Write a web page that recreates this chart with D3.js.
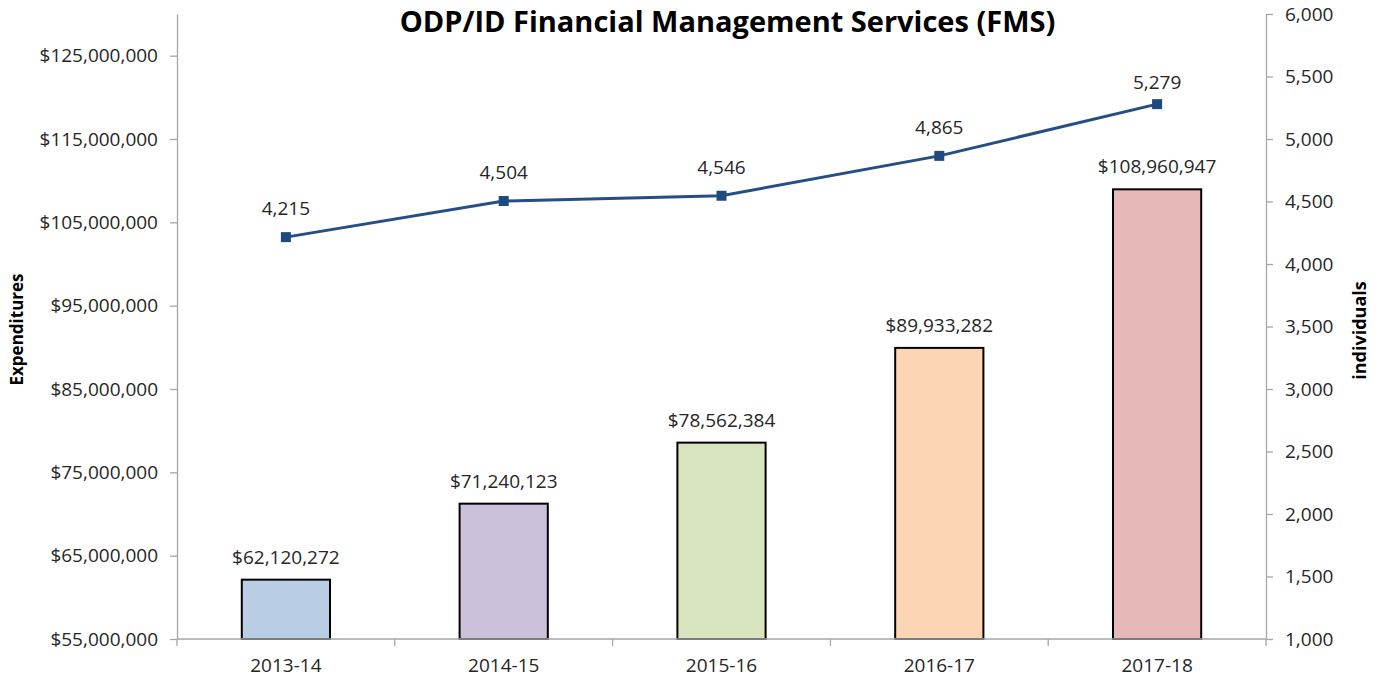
<!DOCTYPE html>
<html>
<head>
<meta charset="utf-8">
<script src="https://cdn.jsdelivr.net/npm/d3@7"></script>
<style>
  body { margin: 0; background: #fff; }
  svg { display: block; font-family: "Open Sans", sans-serif; }
</style>
</head>
<body>
<script>
// ---- data ----
var years = ["2013-14", "2014-15", "2015-16", "2016-17", "2017-18"];
var expenditures = [62120272, 71240123, 78562384, 89933282, 108960947];
var individuals = [4215, 4504, 4546, 4865, 5279];
var barColors = ["#b9cde5", "#ccc1da", "#d7e4bd", "#fcd5b5", "#e6b9b8"];
var leftTicks = [55e6, 65e6, 75e6, 85e6, 95e6, 105e6, 115e6, 125e6];
var rightTicks = [1000, 1500, 2000, 2500, 3000, 3500, 4000, 4500, 5000, 5500, 6000];

// ---- layout ----
var W = 1381, H = 681;
var margin = {top: 14, right: 115, bottom: 42, left: 177};
var width = W - margin.left - margin.right,
    height = H - margin.top - margin.bottom;

var svg = d3.select("body").append("svg")
    .attr("width", W)
    .attr("height", H);

var g = svg.append("g")
    .attr("transform", "translate(" + margin.left + "," + margin.top + ")");

var x = d3.scaleBand().domain(years).range([0, width]).paddingInner(0).paddingOuter(0);
var yL = d3.scaleLinear().domain([55e6, 130e6]).range([height, 0]);
var yR = d3.scaleLinear().domain([1000, 6000]).range([height, 0]);

var money = d3.format("$,.0f");
var comma = d3.format(",");
var axisGray = "#a6a6a6";
var textCol = "#262626";
var labelSize = "19px";

// ---- bars ----
var barW = x.bandwidth() * 0.405;
g.selectAll(".bar")
    .data(expenditures)
    .enter().append("rect")
    .attr("class", "bar")
    .attr("x", function(d, i) { return x(years[i]) + (x.bandwidth() - barW) / 2; })
    .attr("width", barW)
    .attr("y", function(d) { return yL(d); })
    .attr("height", function(d) { return height - yL(d); })
    .attr("fill", function(d, i) { return barColors[i]; })
    .attr("stroke", "#000")
    .attr("stroke-width", 2);

g.selectAll(".barlabel")
    .data(expenditures)
    .enter().append("text")
    .attr("x", function(d, i) { return x(years[i]) + x.bandwidth() / 2; })
    .attr("y", function(d) { return yL(d) - 16; })
    .attr("text-anchor", "middle")
    .style("font-size", labelSize)
    .attr("fill", textCol)
    .text(function(d) { return money(d); });

// ---- axes ----
function styleAxis(sel) {
  sel.selectAll("path, line").attr("stroke", axisGray).attr("stroke-width", 1.3);
  sel.selectAll("text").attr("fill", textCol).style("font-size", labelSize).style("font-family", "Open Sans, sans-serif");
}

var axL = g.append("g")
    .call(d3.axisLeft(yL).tickValues(leftTicks).tickFormat(money).tickSize(7).tickSizeOuter(0).tickPadding(12));
styleAxis(axL);

var axR = g.append("g")
    .attr("transform", "translate(" + width + ",0)")
    .call(d3.axisRight(yR).tickValues(rightTicks).tickFormat(comma).tickSize(7).tickSizeOuter(0).tickPadding(12));
styleAxis(axR);

// x axis: ticks sit on category boundaries
var axX = g.append("g")
    .attr("transform", "translate(0," + height + ")")
    .call(d3.axisBottom(x).tickSize(0).tickSizeOuter(0).tickPadding(20));
styleAxis(axX);
axX.select(".domain").attr("d", "M0,0H" + width);
axX.selectAll(".sep")
    .data(d3.range(years.length + 1))
    .enter().append("line")
    .attr("class", "sep")
    .attr("x1", function(i) { return i * x.bandwidth(); })
    .attr("x2", function(i) { return i * x.bandwidth(); })
    .attr("y1", 0).attr("y2", 7)
    .attr("stroke", axisGray).attr("stroke-width", 1.3);

// ---- line series ----
var line = d3.line()
    .x(function(d, i) { return x(years[i]) + x.bandwidth() / 2; })
    .y(function(d) { return yR(d); });

g.append("path")
    .datum(individuals)
    .attr("fill", "none")
    .attr("stroke", "#254e85")
    .attr("stroke-width", 3)
    .attr("d", line);

g.selectAll(".marker")
    .data(individuals)
    .enter().append("rect")
    .attr("x", function(d, i) { return x(years[i]) + x.bandwidth() / 2 - 5; })
    .attr("y", function(d) { return yR(d) - 5; })
    .attr("width", 10).attr("height", 10)
    .attr("fill", "#1f4a80");

// last label sits a bit lower, like the original
g.selectAll(".linelabel")
    .data(individuals)
    .enter().append("text")
    .attr("x", function(d, i) { return x(years[i]) + x.bandwidth() / 2; })
    .attr("y", function(d, i) { return yR(d) - (i === individuals.length - 1 ? 15 : 22); })
    .attr("text-anchor", "middle")
    .style("font-size", labelSize)
    .attr("fill", textCol)
    .text(function(d) { return comma(d); });

// ---- titles ----
svg.append("text")
    .attr("x", margin.left + width / 2 + 6)
    .attr("y", 32)
    .attr("text-anchor", "middle")
    .style("font-size", "29px")
    .style("font-weight", "bold")
    .attr("fill", "#000")
    .text("ODP/ID Financial Management Services (FMS)");

svg.append("text")
    .attr("transform", "translate(23," + (margin.top + height / 2 + 3) + ") rotate(-90)")
    .attr("text-anchor", "middle")
    .style("font-size", "17px")
    .style("font-weight", "bold")
    .attr("fill", "#000")
    .text("Expenditures");

svg.append("text")
    .attr("transform", "translate(1366," + (margin.top + height / 2 + 4) + ") rotate(-90)")
    .attr("text-anchor", "middle")
    .style("font-size", "18px")
    .style("font-weight", "bold")
    .attr("fill", "#000")
    .text("individuals");
</script>
</body>
</html>
